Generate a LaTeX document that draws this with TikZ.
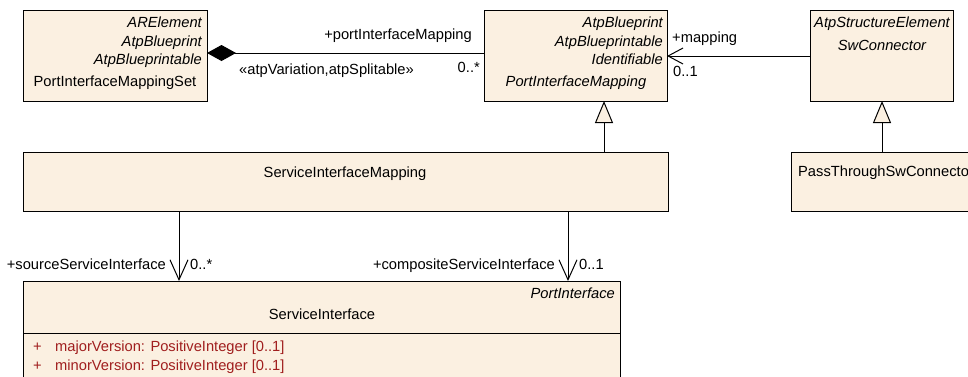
\documentclass[tikz,border=0pt]{standalone}
\usepackage{fontspec}
\setmainfont{Liberation Sans}
\usetikzlibrary{arrows.meta}
\definecolor{classfill}{RGB}{251,240,225}
\definecolor{attrred}{RGB}{160,30,30}
\newcommand\umlfont{\fontsize{14.7}{18}\selectfont}
\tikzset{
  classbox/.style={draw, fill=classfill, line width=1pt, inner sep=0pt, outer sep=0pt, anchor=north west},
  stereo/.style={inner sep=0pt, yshift=-1.5pt, font=\umlfont\itshape},
  lbl/.style={inner sep=0pt, yshift=-1.5pt},
  attr/.style={inner sep=0pt, yshift=-1.5pt, text=attrred, anchor=mid west},
  conn/.style={line width=1pt},
}
\begin{document}
\begin{tikzpicture}[x=1pt,y=-1pt,font=\umlfont]
\clip (0,0) rectangle (968,376);
% classes
\node[classbox, minimum width=184pt, minimum height=91pt] (mapset) at (23,10) {};
\node[classbox, minimum width=183pt, minimum height=91pt] (pim) at (484,10) {};
\node[classbox, minimum width=143pt, minimum height=91pt] (swc) at (810,10) {};
\node[classbox, minimum width=645pt, minimum height=59pt] (simap) at (23,152) {};
\node[classbox, minimum width=190pt, minimum height=59pt] (ptswc) at (791,152) {};
\node[classbox, minimum width=597pt, minimum height=110pt] (siface) at (23,281) {};
% texts
\node[stereo, anchor=mid east] (mapsetA) at (202,23) {ARElement};
\node[stereo, anchor=mid east] (mapsetB) at (202,42) {AtpBlueprint};
\node[stereo, anchor=mid east] (mapsetC) at (202,60) {AtpBlueprintable};
\node[lbl, anchor=mid] (mapsetN) at (115,82) {PortInterfaceMappingSet};
\node[stereo, anchor=mid east] (pimA) at (663,23) {AtpBlueprint};
\node[stereo, anchor=mid east] (pimB) at (663,42) {AtpBlueprintable};
\node[stereo, anchor=mid east] (pimC) at (663,60) {Identifiable};
\node[stereo, anchor=mid] (pimN) at (576,82) {PortInterfaceMapping};
\node[stereo, anchor=mid] (swcA) at (882,23) {AtpStructureElement};
\node[stereo, anchor=mid] (swcN) at (882,46) {SwConnector};
\node[lbl, anchor=mid] (simapN) at (345,173) {ServiceInterfaceMapping};
\node[lbl, anchor=mid] (ptswcN) at (886,172) {PassThroughSwConnector};
\node[stereo, anchor=mid east] (sifaceA) at (615,294) {PortInterface};
\node[lbl, anchor=mid] (sifaceN) at (322,315) {ServiceInterface};
\draw[conn] (siface.west |- 0,333) -- (siface.east |- 0,333);
\node[attr] (plusA) at (33,347) {+};
\node[attr] (attrA) at (55,347) {majorVersion: PositiveInteger [0..1]};
\node[attr] (plusB) at (33,366) {+};
\node[attr] (attrB) at (55,366) {minorVersion: PositiveInteger [0..1]};
% connectors
\draw[conn, {Diamond[length=29pt,width=16pt]}-] (mapset.east |- 0,53) -- (pim.west |- 0,53);
\node[lbl, anchor=mid east] (roleA) at (472,35) {+portInterfaceMapping};
\node[lbl, anchor=mid west] (stereoA) at (239,70) {«atpVariation,atpSplitable»};
\node[lbl, anchor=mid east] (multA) at (480,68) {0..*};
\draw[conn, -{Straight Barb[length=15pt,width=16pt]}] (swc.west |- 0,56) -- (pim.east |- 0,56);
\node[lbl, anchor=mid west] (roleB) at (672,38) {+mapping};
\node[lbl, anchor=mid west] (multB) at (673,72) {0..1};
\draw[conn, -{Triangle[length=22pt,width=18pt,fill=classfill]}] (simap.north -| 604,0) -- (pim.south -| 604,0);
\draw[conn, -{Triangle[length=22pt,width=18pt,fill=classfill]}] (ptswc.north -| 882,0) -- (swc.south -| 882,0);
\draw[conn, -{Straight Barb[length=20pt,width=18pt]}] (simap.south -| 179,0) -- (siface.north -| 179,0);
\node[lbl, anchor=mid east] (roleC) at (166,265) {+sourceServiceInterface};
\node[lbl, anchor=mid west] (multC) at (190,265) {0..*};
\draw[conn, -{Straight Barb[length=20pt,width=18pt]}] (simap.south -| 568,0) -- (siface.north -| 568,0);
\node[lbl, anchor=mid east] (roleD) at (555,265) {+compositeServiceInterface};
\node[lbl, anchor=mid west] (multD) at (579,265) {0..1};
\end{tikzpicture}
\end{document}
